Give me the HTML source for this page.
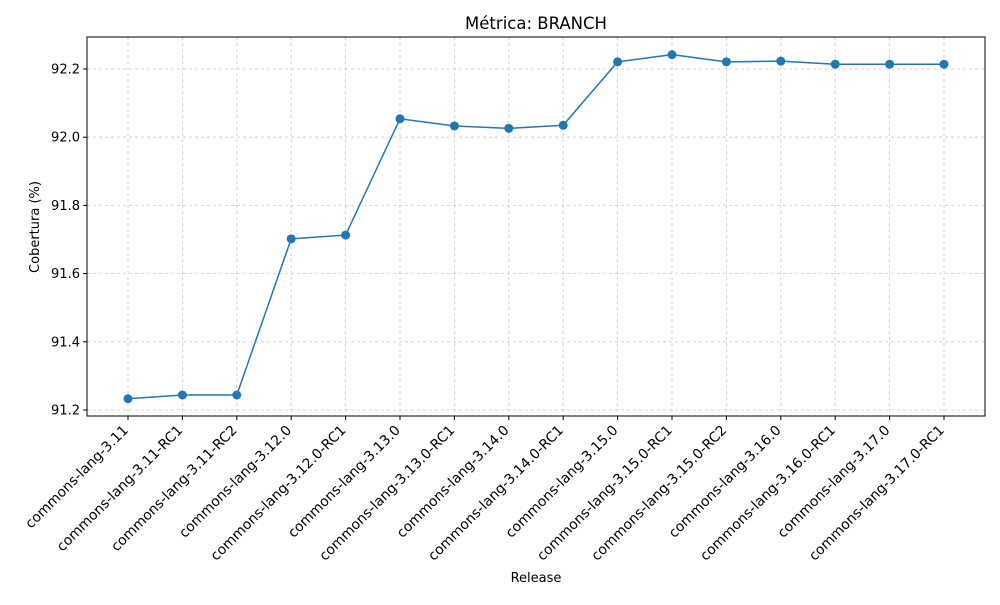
<!DOCTYPE html>
<html><head><meta charset="utf-8"><style>body{margin:0;background:#fff}svg{font-family:"DejaVu Sans","Liberation Sans",sans-serif}</style></head>
<body>
<svg id="chart" width="1000" height="600"></svg>
<script>
const categories=["commons-lang-3.11","commons-lang-3.11-RC1","commons-lang-3.11-RC2","commons-lang-3.12.0","commons-lang-3.12.0-RC1","commons-lang-3.13.0","commons-lang-3.13.0-RC1","commons-lang-3.14.0","commons-lang-3.14.0-RC1","commons-lang-3.15.0","commons-lang-3.15.0-RC1","commons-lang-3.15.0-RC2","commons-lang-3.16.0","commons-lang-3.16.0-RC1","commons-lang-3.17.0","commons-lang-3.17.0-RC1"];
const values=[91.233,91.244,91.244,91.702,91.713,92.054,92.033,92.026,92.035,92.221,92.242,92.221,92.223,92.214,92.214,92.214];
const yTicks=[91.2,91.4,91.6,91.8,92.0,92.2];
const NS="http://www.w3.org/2000/svg";
const svg=document.getElementById('chart');
const L=87,R=985,T=37,B=416;
function x(i){return 128+i*(944-128)/(categories.length-1);}
function y(v){return 410-(v-91.2)*341;}
function mk(tag,attrs,parent){const e=document.createElementNS(NS,tag);for(const k in attrs)e.setAttribute(k,attrs[k]);(parent||svg).appendChild(e);return e;}
yTicks.forEach(v=>{
 const g=mk('line',{x1:L,x2:R,y1:y(v),y2:y(v),stroke:'#b0b0b0','stroke-width':0.8,'stroke-dasharray':'3,3',opacity:0.7});
 
 
 mk('line',{x1:L-4,x2:L,y1:y(v),y2:y(v),stroke:'#000'});
 const t=mk('text',{x:L-7,y:y(v)+4.5,'text-anchor':'end','font-size':13});
 t.textContent=v.toFixed(1);
 
 
});
categories.forEach((c,i)=>{
 const g=mk('line',{x1:x(i),x2:x(i),y1:T,y2:B,stroke:'#b0b0b0','stroke-width':0.8,'stroke-dasharray':'3,3',opacity:0.7});
 
 
 mk('line',{x1:x(i),x2:x(i),y1:B,y2:B+4,stroke:'#000'});
 const t=mk('text',{x:x(i)+1,y:B+15,'text-anchor':'end','font-size':13.9,transform:`rotate(-45 ${x(i)+1} ${B+15})`});
 t.textContent=c;
 
 
});
const line=mk('polyline',{points:values.map((v,i)=>x(i)+','+y(v)).join(' '),fill:'none',stroke:'#1f77b4','stroke-width':1.5});


values.forEach((v,i)=>{
 const p=mk('circle',{cx:x(i),cy:y(v),r:4.5,fill:'#1f77b4'});
 
 
});
const fr=mk('rect',{x:L,y:T,width:R-L,height:B-T,fill:'none',stroke:'#000','stroke-width':1});


const ti=mk('text',{x:536,y:29,'text-anchor':'middle','font-size':16.5});ti.textContent='Métrica: BRANCH';


const xl=mk('text',{x:536,y:582,'text-anchor':'middle','font-size':13});xl.textContent='Release';


const yl=mk('text',{x:39,y:227,'text-anchor':'middle','font-size':13,transform:'rotate(-90 39 227)'});yl.textContent='Cobertura (%)';


</script>
</body></html>
